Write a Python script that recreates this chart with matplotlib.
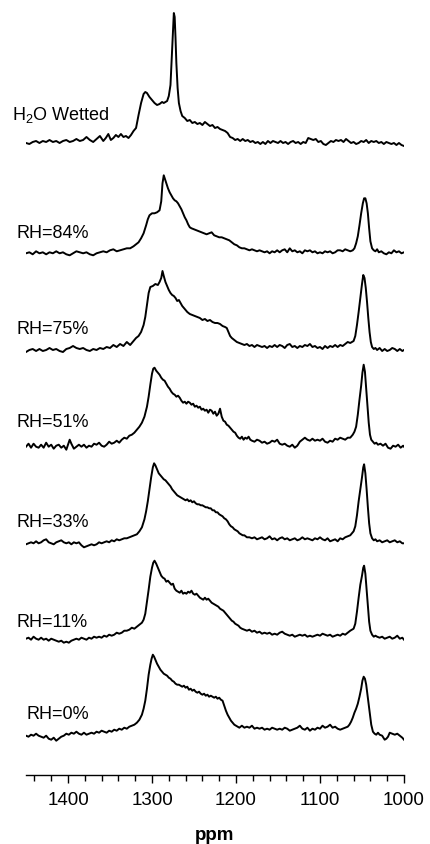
"""Stacked NMR spectra of a hydrated sample at several relative humidities."""
import matplotlib
matplotlib.use("Agg")
import matplotlib.pyplot as plt

plt.rcParams["font.family"] = ["Liberation Sans", "DejaVu Sans"]
plt.rcParams["mathtext.fontset"] = "custom"
plt.rcParams["mathtext.rm"] = "Liberation Sans"

# --- data: (ppm, intensity in arbitrary units) ---
h2o_pts = [
    (1450, 0), (1446, -1), (1442, 1), (1438, 2), (1434, 0), (1430, 2), (1426, 1),
    (1422, 3), (1418, 1), (1414, 2), (1410, 0), (1406, 2), (1402, 3), (1398, 1),
    (1394, 2), (1390, 4), (1386, 2), (1382, 3), (1378, 6), (1374, 3), (1370, 1),
    (1366, 4), (1362, 7), (1358, 2), (1355, 5), (1352, 9), (1349, 3), (1346, 5),
    (1343, 8), (1340, 6), (1337, 9), (1334, 6), (1331, 7), (1328, 5), (1325, 8),
    (1322, 12), (1319, 15), (1316, 28), (1313, 40), (1310, 49), (1308, 51),
    (1306, 50), (1303, 46), (1300, 43), (1297, 40), (1294, 38), (1291, 39),
    (1288, 41), (1286, 40), (1284, 41), (1282, 42), (1280, 47), (1278, 58),
    (1276.5, 85), (1275, 112), (1274, 130), (1273, 126), (1272, 105), (1271, 80),
    (1269.5, 55), (1268, 40), (1266, 32), (1264, 27), (1261, 25), (1258, 22),
    (1255, 23), (1252, 20), (1249, 21), (1246, 19), (1243, 20), (1240, 18),
    (1237, 21), (1234, 19), (1231, 17), (1228, 18), (1225, 15), (1222, 16),
    (1219, 14), (1216, 13), (1213, 12), (1210, 10), (1207, 6), (1204, 5),
    (1201, 3), (1198, 4), (1195, 2), (1192, 4), (1189, 2), (1186, 3), (1183, 1),
    (1180, 2), (1177, 0), (1174, 1), (1171, -1), (1168, 1), (1165, -1), (1162, 2),
    (1159, 0), (1156, 2), (1153, 1), (1150, 0), (1147, 2), (1144, 0), (1141, 1),
    (1138, -1), (1135, 1), (1132, 2), (1129, 0), (1126, 1), (1123, -1), (1120, 1),
    (1117, 0), (1114, 5), (1111, 4), (1108, 3), (1105, 4), (1102, 1), (1099, 2),
    (1096, -1), (1093, -2), (1090, 0), (1087, 2), (1084, 1), (1081, 3), (1078, 2),
    (1075, 3), (1072, 1), (1069, 4), (1066, 2), (1063, 0), (1060, 1), (1057, -1),
    (1054, 0), (1051, 2), (1048, 1), (1045, 3), (1042, 0), (1039, 2), (1036, 1),
    (1033, 2), (1030, 0), (1027, 1), (1024, -1), (1021, 1), (1018, 0), (1015, -1),
    (1012, 0), (1009, -2), (1006, 0), (1003, -2), (1000, -3),
]

rh84_pts = [
    (1450, 0), (1446, 1), (1442, -1), (1438, 2), (1434, 0), (1430, 1), (1426, -1),
    (1422, 1), (1418, 0), (1414, 2), (1410, 0), (1406, 1), (1402, -1), (1398, -2),
    (1394, 0), (1390, 2), (1386, 1), (1382, 0), (1378, 1), (1374, -1), (1370, -2),
    (1366, 0), (1362, 1), (1358, 2), (1354, 1), (1350, 3), (1346, 4), (1342, 2),
    (1338, 3), (1334, 4), (1330, 5), (1326, 5), (1322, 7), (1319, 9), (1316, 11),
    (1313, 15), (1310, 20), (1307, 28), (1305, 34), (1303, 38), (1300, 40),
    (1297, 40), (1294, 41), (1291, 43), (1289, 52), (1287.5, 70), (1286, 78),
    (1284.5, 74), (1283, 70), (1281, 65), (1279, 61), (1277, 58), (1275, 55),
    (1273, 53), (1271, 52), (1269, 50), (1267, 47), (1265, 44), (1263, 40),
    (1261, 36), (1259, 33), (1257, 29), (1255, 26), (1253, 25), (1250, 24),
    (1247, 23), (1244, 22), (1241, 21), (1238, 20), (1235, 19), (1232, 20),
    (1229, 21), (1226, 18), (1223, 17), (1220, 16), (1217, 16), (1214, 15),
    (1211, 14), (1208, 13), (1205, 11), (1202, 9), (1199, 8), (1196, 6), (1193, 5),
    (1190, 5), (1187, 4), (1184, 3), (1181, 4), (1178, 3), (1175, 2), (1172, 3),
    (1169, 2), (1166, 1), (1163, 2), (1160, 0), (1157, 2), (1154, 1), (1151, 3),
    (1148, 1), (1145, 3), (1142, 4), (1139, 1), (1136, 5), (1133, 2), (1130, 3),
    (1127, 1), (1124, 2), (1121, 0), (1118, 3), (1115, 2), (1112, 3), (1109, 1),
    (1106, 2), (1103, 0), (1100, 1), (1097, 0), (1094, 2), (1091, 1), (1088, 2),
    (1085, 0), (1082, 1), (1079, 3), (1076, 3), (1073, 2), (1070, 4), (1067, 3),
    (1064, 2), (1061, 3), (1059, 5), (1057, 10), (1055, 17), (1053, 28), (1051, 40),
    (1049, 50), (1047.5, 55), (1046, 55), (1044.5, 50), (1043, 40), (1041.5, 25),
    (1040, 12), (1038, 5), (1036, 3), (1034, 2), (1032, 4), (1030, 1), (1027, 2),
    (1024, 0), (1021, -1), (1018, 1), (1015, 0), (1012, 3), (1009, 1), (1006, 2),
    (1003, 0), (1000, 1),
]

rh75_pts = [
    (1450, -2), (1446, 0), (1442, 1), (1438, -1), (1434, 1), (1430, -1), (1426, 0),
    (1422, 2), (1418, 0), (1414, 1), (1410, -1), (1406, -2), (1402, 1), (1398, 2),
    (1394, 4), (1390, 2), (1386, 1), (1382, 2), (1378, 0), (1374, -1), (1370, 1),
    (1366, 0), (1362, 2), (1358, 1), (1354, 3), (1350, 2), (1346, 5), (1342, 3),
    (1338, 6), (1334, 4), (1330, 8), (1326, 5), (1322, 9), (1319, 12), (1316, 14),
    (1313, 18), (1310, 25), (1308, 33), (1306, 45), (1304, 57), (1302, 63),
    (1299, 64), (1296, 66), (1293, 65), (1291, 68), (1289, 72), (1287.5, 79),
    (1286, 74), (1284, 68), (1282, 64), (1280, 60), (1278, 57), (1276, 55),
    (1274, 54), (1272, 52), (1270, 49), (1268, 50), (1266, 47), (1264, 44),
    (1262, 42), (1260, 40), (1258, 38), (1255, 36), (1252, 35), (1249, 34),
    (1246, 33), (1243, 32), (1240, 30), (1237, 31), (1234, 29), (1231, 30),
    (1228, 28), (1225, 27), (1222, 27), (1219, 26), (1216, 24), (1213, 23),
    (1211, 22), (1209, 18), (1207, 14), (1205, 12), (1202, 10), (1199, 8), (1196, 7),
    (1193, 6), (1190, 5), (1187, 6), (1184, 4), (1181, 5), (1178, 3), (1175, 5),
    (1172, 4), (1169, 3), (1166, 4), (1163, 2), (1160, 4), (1157, 3), (1154, 5),
    (1151, 3), (1148, 5), (1145, 4), (1142, 2), (1139, 5), (1136, 6), (1133, 3),
    (1130, 4), (1127, 2), (1124, 4), (1121, 3), (1118, 5), (1115, 4), (1112, 6),
    (1109, 3), (1106, 4), (1103, 2), (1100, 3), (1097, 1), (1094, 4), (1091, 2),
    (1088, 4), (1085, 3), (1082, 5), (1079, 3), (1076, 5), (1073, 4), (1070, 6),
    (1067, 8), (1064, 7), (1062, 8), (1060, 9), (1058, 14), (1056, 25), (1054, 38),
    (1052, 52), (1050, 66), (1048.5, 75), (1047, 72), (1045.5, 62), (1044, 48),
    (1042.5, 32), (1041, 18), (1039.5, 8), (1038, 3), (1036, 1), (1034, 2),
    (1032, 0), (1029, 2), (1026, -1), (1023, 1), (1020, -1), (1017, 0), (1014, 2),
    (1011, 1), (1008, -1), (1005, 1), (1002, -1), (1000, 0),
]

rh51_pts = [
    (1450, 0), (1447, 3), (1444, -1), (1441, 3), (1438, 0), (1435, -1), (1432, 2),
    (1429, -1), (1426, 4), (1423, 0), (1420, 2), (1417, -2), (1414, 1), (1411, 2),
    (1408, -1), (1405, 1), (1402, -3), (1400, 2), (1398, 7), (1396, 3), (1393, -2),
    (1390, 0), (1387, 2), (1384, 0), (1381, 2), (1378, -1), (1375, 1), (1372, 0),
    (1369, 3), (1366, 2), (1363, 4), (1360, 1), (1357, 0), (1354, 2), (1351, 5),
    (1348, 3), (1345, 4), (1342, 6), (1339, 4), (1336, 7), (1333, 9), (1330, 8),
    (1327, 11), (1324, 12), (1321, 14), (1318, 17), (1315, 20), (1312, 24),
    (1309, 30), (1306, 40), (1304, 50), (1302, 62), (1300, 73), (1298.5, 78),
    (1297, 79), (1295, 76), (1293, 74), (1291, 72), (1289, 69), (1287, 67),
    (1285, 66), (1283, 63), (1281, 60), (1279, 58), (1277, 55), (1275, 53),
    (1273, 52), (1271, 50), (1269, 51), (1267, 49), (1265, 46), (1263, 44),
    (1261, 45), (1259, 43), (1257, 45), (1255, 44), (1253, 42), (1251, 43),
    (1249, 40), (1247, 41), (1245, 39), (1243, 40), (1241, 37), (1239, 38),
    (1237, 36), (1235, 37), (1233, 34), (1231, 37), (1229, 36), (1227, 33),
    (1225, 35), (1223, 31), (1221, 33), (1219, 38), (1217, 30), (1215, 26),
    (1213, 25), (1211, 22), (1209, 21), (1207, 19), (1205, 17), (1203, 15),
    (1201, 14), (1199, 11), (1197, 9), (1195, 8), (1193, 10), (1191, 7), (1189, 9),
    (1187, 8), (1185, 10), (1183, 7), (1181, 6), (1178, 5), (1175, 7), (1172, 6),
    (1169, 4), (1166, 5), (1163, 3), (1160, 4), (1157, 6), (1154, 5), (1151, 7),
    (1148, 3), (1145, 2), (1142, 3), (1139, 1), (1136, 0), (1133, 2), (1130, -1),
    (1127, 1), (1124, 5), (1121, 7), (1118, 9), (1115, 7), (1112, 6), (1109, 8),
    (1106, 6), (1103, 7), (1100, 6), (1097, 8), (1094, 5), (1091, 4), (1088, 6),
    (1085, 5), (1082, 8), (1079, 7), (1076, 9), (1073, 8), (1070, 7), (1067, 9),
    (1064, 9), (1061, 12), (1059, 15), (1057, 20), (1055, 32), (1053, 47),
    (1051, 61), (1049.5, 74), (1048, 82), (1046.5, 75), (1045, 58), (1043.5, 40),
    (1042, 24), (1040.5, 12), (1039, 7), (1037, 5), (1035, 3), (1033, 4), (1031, 2),
    (1028, 3), (1025, 1), (1022, 3), (1019, -1), (1016, -2), (1013, 1), (1010, 0),
    (1007, 2), (1004, -1), (1001, 1), (1000, 0),
]

rh33_pts = [
    (1450, -1), (1447, 0), (1444, 1), (1441, 0), (1438, 2), (1435, 0), (1432, 1),
    (1429, 3), (1426, 4), (1423, 1), (1420, 0), (1417, -1), (1414, 1), (1411, 2),
    (1408, 3), (1405, 1), (1402, 0), (1399, 1), (1396, -1), (1393, 1), (1390, 0),
    (1387, 1), (1384, -2), (1381, -4), (1378, -3), (1375, -2), (1372, -1),
    (1369, -2), (1366, -1), (1363, 1), (1360, 0), (1357, 1), (1354, 2), (1351, 1),
    (1348, 3), (1345, 2), (1342, 4), (1339, 3), (1336, 4), (1333, 5), (1330, 5),
    (1327, 6), (1324, 7), (1321, 8), (1318, 9), (1315, 12), (1312, 16), (1309, 24),
    (1307, 32), (1305, 42), (1303, 54), (1301, 66), (1299, 76), (1297.5, 80),
    (1296, 78), (1294, 74), (1292, 70), (1290, 68), (1288, 66), (1286, 64),
    (1284, 63), (1282, 61), (1280, 59), (1278, 57), (1276, 54), (1274, 52),
    (1272, 50), (1270, 48), (1268, 47), (1266, 46), (1264, 45), (1262, 44),
    (1260, 43), (1258, 44), (1256, 42), (1254, 43), (1252, 41), (1250, 42),
    (1248, 40), (1246, 39), (1244, 39), (1242, 38), (1240, 38), (1238, 37),
    (1236, 36), (1234, 36), (1232, 35), (1230, 35), (1228, 33), (1226, 33),
    (1224, 31), (1222, 31), (1220, 29), (1218, 28), (1216, 27), (1214, 25),
    (1212, 24), (1210, 22), (1208, 19), (1206, 17), (1204, 16), (1202, 14),
    (1200, 13), (1198, 12), (1196, 10), (1194, 9), (1192, 8), (1190, 8), (1187, 6),
    (1184, 6), (1181, 5), (1178, 6), (1175, 4), (1172, 5), (1169, 6), (1166, 4),
    (1163, 5), (1160, 7), (1157, 4), (1154, 5), (1151, 3), (1148, 5), (1145, 6),
    (1142, 4), (1139, 5), (1136, 3), (1133, 4), (1130, 5), (1127, 3), (1124, 4),
    (1121, 6), (1118, 4), (1115, 5), (1112, 4), (1109, 3), (1106, 5), (1103, 4),
    (1100, 6), (1097, 4), (1094, 3), (1091, 5), (1088, 2), (1085, 3), (1082, 4),
    (1079, 2), (1076, 5), (1073, 4), (1070, 6), (1067, 7), (1064, 8), (1062, 10),
    (1060, 12), (1058, 17), (1056, 28), (1054, 42), (1052, 54), (1050, 66),
    (1048.5, 76), (1047.5, 79), (1046, 70), (1044.5, 54), (1043, 36), (1041.5, 20),
    (1040, 10), (1038, 5), (1036, 3), (1034, 4), (1032, 2), (1029, 3), (1026, 1),
    (1023, 2), (1020, 3), (1017, 1), (1014, 2), (1011, 3), (1008, 1), (1005, 2),
    (1002, 0), (1000, 0),
]

rh11_pts = [
    (1450, 1), (1447, 2), (1444, 0), (1441, 3), (1438, 1), (1435, 0), (1432, 2),
    (1429, 0), (1426, 1), (1423, -1), (1420, 1), (1417, 0), (1414, -1), (1411, -2),
    (1408, -1), (1405, -3), (1402, -2), (1399, -3), (1396, -1), (1393, 0), (1390, 1),
    (1387, 0), (1384, 2), (1381, 1), (1378, 0), (1375, 2), (1372, 1), (1369, 3),
    (1366, 2), (1363, 3), (1360, 2), (1357, 4), (1354, 3), (1351, 5), (1348, 4),
    (1345, 5), (1342, 7), (1339, 6), (1336, 7), (1333, 9), (1330, 9), (1327, 10),
    (1324, 12), (1321, 11), (1318, 13), (1315, 15), (1312, 17), (1310, 20),
    (1308, 26), (1306, 38), (1304, 50), (1302, 63), (1300, 72), (1298.5, 77),
    (1297, 79), (1295, 76), (1293, 72), (1291, 68), (1289, 64), (1287, 62),
    (1285, 61), (1283, 58), (1281, 59), (1279, 57), (1277, 55), (1275, 56),
    (1273, 51), (1271, 49), (1269, 48), (1267, 47), (1265, 49), (1263, 46),
    (1261, 47), (1259, 46), (1257, 48), (1255, 47), (1253, 49), (1251, 46),
    (1249, 45), (1247, 46), (1245, 44), (1243, 42), (1241, 41), (1239, 40),
    (1237, 42), (1235, 40), (1233, 41), (1231, 39), (1229, 37), (1227, 36),
    (1225, 35), (1223, 34), (1221, 33), (1219, 31), (1217, 30), (1215, 29),
    (1213, 27), (1211, 25), (1209, 23), (1207, 21), (1205, 19), (1203, 18),
    (1201, 16), (1199, 15), (1197, 14), (1195, 12), (1193, 11), (1190, 10),
    (1187, 9), (1184, 10), (1181, 8), (1178, 9), (1175, 7), (1172, 8), (1169, 6),
    (1166, 7), (1163, 6), (1160, 7), (1157, 5), (1154, 6), (1151, 5), (1148, 7),
    (1145, 8), (1142, 6), (1139, 5), (1136, 4), (1133, 5), (1130, 3), (1127, 4),
    (1124, 5), (1121, 4), (1118, 5), (1115, 3), (1112, 4), (1109, 3), (1106, 4),
    (1103, 5), (1100, 4), (1097, 6), (1094, 5), (1091, 4), (1088, 5), (1085, 3),
    (1082, 4), (1079, 5), (1076, 4), (1073, 6), (1070, 5), (1067, 7), (1064, 9),
    (1062, 10), (1060, 11), (1058, 16), (1056, 28), (1054, 42), (1052, 55),
    (1050, 64), (1048.5, 72), (1047.5, 74), (1046, 66), (1044.5, 50), (1043, 33),
    (1041.5, 18), (1040, 9), (1038, 5), (1036, 3), (1034, 4), (1032, 3), (1029, 2),
    (1026, 3), (1023, 1), (1020, 2), (1017, 3), (1014, 1), (1011, 2), (1008, 4),
    (1005, 1), (1002, 2), (1000, 0),
]

rh0_pts = [
    (1450, 1), (1447, 0), (1444, 2), (1441, 1), (1438, 3), (1435, 1), (1432, 0),
    (1429, -1), (1426, 1), (1423, -2), (1420, -3), (1417, -1), (1414, -4),
    (1411, -2), (1408, 0), (1405, 1), (1402, 3), (1399, 2), (1396, 4), (1393, 3),
    (1390, 5), (1387, 3), (1384, 2), (1381, 4), (1378, 2), (1375, 3), (1372, 4),
    (1369, 3), (1366, 5), (1363, 4), (1360, 6), (1357, 5), (1354, 4), (1351, 6),
    (1348, 5), (1345, 7), (1342, 6), (1339, 8), (1336, 7), (1333, 9), (1330, 8),
    (1327, 10), (1324, 11), (1321, 12), (1318, 14), (1315, 17), (1312, 22),
    (1310, 28), (1308, 36), (1306, 48), (1304, 62), (1302, 72), (1300.5, 78),
    (1299, 82), (1297.5, 80), (1296, 77), (1294, 73), (1292, 70), (1290, 67),
    (1288, 65), (1286, 63), (1284, 62), (1282, 61), (1280, 59), (1278, 58),
    (1276, 56), (1274, 55), (1272, 53), (1270, 52), (1268, 52), (1266, 51),
    (1264, 50), (1262, 51), (1260, 49), (1258, 50), (1256, 47), (1254, 48),
    (1252, 46), (1250, 47), (1248, 45), (1246, 44), (1244, 45), (1242, 43),
    (1240, 42), (1238, 43), (1236, 41), (1234, 42), (1232, 40), (1230, 41),
    (1228, 40), (1226, 39), (1224, 40), (1222, 38), (1220, 39), (1218, 37),
    (1216, 36), (1214, 31), (1212, 26), (1210, 22), (1208, 19), (1206, 16),
    (1204, 14), (1202, 12), (1200, 11), (1198, 10), (1196, 9), (1193, 11),
    (1190, 9), (1187, 10), (1184, 9), (1181, 11), (1178, 8), (1175, 9), (1172, 8),
    (1169, 9), (1166, 7), (1163, 8), (1160, 7), (1157, 9), (1154, 8), (1151, 7),
    (1148, 8), (1145, 7), (1142, 9), (1139, 8), (1136, 6), (1133, 7), (1130, 8),
    (1127, 9), (1124, 11), (1121, 8), (1118, 7), (1115, 9), (1112, 6), (1109, 8),
    (1106, 7), (1103, 9), (1100, 8), (1097, 11), (1094, 9), (1091, 10), (1088, 12),
    (1085, 9), (1082, 10), (1079, 8), (1076, 7), (1073, 8), (1070, 9), (1067, 10),
    (1065, 12), (1063, 15), (1061, 19), (1059, 24), (1057, 28), (1055, 33),
    (1053, 40), (1051, 48), (1049.5, 56), (1048, 60), (1046.5, 58), (1045, 52),
    (1043.5, 42), (1042, 32), (1040.5, 22), (1039, 12), (1037, 5), (1035, 3),
    (1033, 2), (1031, 4), (1029, 2), (1026, 1), (1023, -3), (1021, -2), (1019, 0),
    (1017, 4), (1014, 3), (1011, 2), (1008, 3), (1005, 1), (1002, -1), (1000, -3),
]

labels = ["H$_{\\mathrm{2}}$O Wetted", "RH=84%", "RH=75%", "RH=51%",
          "RH=33%", "RH=11%", "RH=0%"]
x_ticks = [1400, 1300, 1200, 1100, 1000]

spectra = [h2o_pts, rh84_pts, rh75_pts, rh51_pts, rh33_pts, rh11_pts, rh0_pts]

# --- layout (pixels of a 430x844 canvas) ---
W, H = 430, 844
offsets = [632, 521.7, 425, 328.3, 231.7, 135.3, 38.3]
label_x = [12, 16, 16, 16, 16, 16, 26]
label_base = [120, 238, 334, 427, 527, 627, 719]

fig = plt.figure(figsize=(W / 100, H / 100), dpi=100)
ax = fig.add_axes([26 / W, (H - 775) / H, 378 / W, 775 / H])

for pts, off in zip(spectra, offsets):
    ppm = [p for p, _ in pts]
    inten = [v + off for _, v in pts]
    ax.plot(ppm, inten, color="black", lw=1.4, solid_joinstyle="round")

for lab, lx, ly in zip(labels, label_x, label_base):
    fig.text(lx / W, 1 - ly / H, lab, fontsize=13, ha="left", va="baseline")

ax.set_xlim(1450, 1000)
ax.set_ylim(0, 775)
ax.set_xticks(x_ticks)
ax.set_xticks(range(1440, 999, -20), minor=True)
ax.tick_params(axis="x", which="major", direction="out", length=6, width=1,
               labelsize=13.5, pad=6)
ax.tick_params(axis="x", which="minor", direction="out", length=4, width=1)
ax.set_yticks([])
for s in ("left", "right", "top"):
    ax.spines[s].set_visible(False)
ax.spines["bottom"].set_linewidth(1)
ax.patch.set_alpha(0)

fig.text(215 / W, 1 - 840 / H, "ppm", fontsize=13.5, fontweight="bold",
         ha="center", va="baseline")

fig.savefig("out.png", dpi=100)
